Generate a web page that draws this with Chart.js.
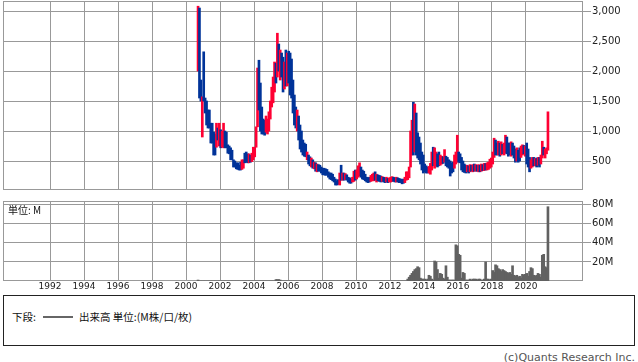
<!DOCTYPE html>
<html>
<head>
<meta charset="utf-8">
<script src="https://cdn.jsdelivr.net/npm/chart.js@4.4.1/dist/chart.umd.min.js"></script>
<style>
  body { margin: 0; background: #fff; width: 638px; height: 362px; overflow: hidden; position: relative; font-family: "Noto Sans CJK JP", sans-serif; color: #111; }
  canvas { position: absolute; left: 0; }
  #price { top: 0; }
  #vol { top: 195px; }
  .txt { position: absolute; white-space: nowrap; font-size: 10.5px; line-height: 12px; }
  #unit { left: 8px; top: 204px; font-size: 10px; }
  #legendBox { position: absolute; left: 3px; top: 295px; width: 630px; height: 49px; border: 1px solid #222; }
  #lgLine { position: absolute; left: 43px; top: 316px; width: 30px; height: 2px; background: #666; }
  #copy { position: absolute; right: 3px; top: 351px; font-family: "DejaVu Sans", sans-serif; font-size: 11px; line-height: 13px; color: #555; white-space: nowrap; }
</style>
</head>
<body>
<canvas id="price" width="638" height="195"></canvas>
<canvas id="vol" width="638" height="100"></canvas>
<div class="txt" id="unit">単位: M</div>
<div id="legendBox"></div>
<div class="txt" style="left:12px; top:311px;">下段:</div>
<div id="lgLine"></div>
<div class="txt" style="left:79px; top:311px;">出来高 単位:(M株/口/枚)</div>
<div id="copy">(c)Quants Research Inc.</div>
<script>
// 月足データ 2000年9月〜2021年4月
const firstMonth = 2000 + 8 / 12;

const priceLow = [
  2000, 1550, 1500, 900, // 2000 (9-12)
  1500, 1300, 1100, 1050, 1050, 800, 800, 600, 600, 730, 850, 750, // 2001
  720, 730, 720, 720, 720, 630, 620, 520, 520, 400, 400, 370, // 2002
  360, 350, 350, 360, 380, 470, 480, 470, 470, 480, 490, 520, // 2003
  570, 730, 1070, 1350, 1000, 950, 950, 930, 980, 950, 1000, 1200, // 2004
  1400, 1470, 1650, 1800, 1900, 2000, 1850, 1900, 1650, 1700, 1750, 1750, // 2005
  1800, 1600, 1550, 1300, 1100, 1050, 1000, 850, 700, 650, 600, 580, // 2006
  570, 520, 450, 420, 400, 380, 370, 330, 320, 330, 330, 300, // 2007
  270, 270, 260, 270, 230, 200, 190, 170, 150, 100, 100, 110, // 2008
  100, 180, 180, 180, 190, 180, 150, 130, 130, 150, 160, 180, // 2009
  200, 230, 250, 230, 200, 190, 170, 150, 140, 150, 160, 170, // 2010
  170, 180, 150, 170, 160, 150, 160, 150, 140, 150, 140, 150, // 2011
  150, 160, 160, 150, 150, 150, 140, 140, 120, 130, 140, 180, // 2012
  190, 220, 400, 600, 600, 650, 600, 550, 520, 450, 350, 300, // 2013
  320, 300, 300, 300, 280, 350, 420, 380, 420, 400, 420, 430, // 2014
  450, 460, 480, 420, 400, 380, 250, 300, 320, 380, 450, 480, // 2015
  480, 470, 350, 320, 310, 300, 320, 300, 320, 330, 320, 330, // 2016
  330, 330, 320, 320, 330, 340, 340, 350, 350, 360, 380, 400, // 2017
  450, 560, 600, 600, 600, 580, 600, 620, 600, 630, 620, 580, // 2018
  600, 580, 600, 550, 480, 500, 480, 500, 560, 600, 620, 580, // 2019
  450, 400, 320, 380, 400, 420, 420, 400, 430, 400, 450, 550, // 2020
  600, 550, 620, 680 // 2021 (1-4)
];

const priceHigh = [
  3080, 3050, 1850, 1570, // 2000
  2320, 1550, 1500, 1350, 1350, 1130, 1130, 980, 950, 1130, 1050, 1130, // 2001
  1020, 1000, 1130, 1000, 980, 770, 750, 720, 680, 520, 500, 470, // 2002
  470, 430, 480, 520, 520, 630, 650, 620, 620, 600, 630, 730, // 2003
  730, 1070, 2050, 2180, 1800, 1400, 1200, 1180, 1250, 1200, 1320, 1500, // 2004
  1730, 1900, 2150, 2130, 2630, 2450, 2350, 2300, 2230, 2150, 2350, 2300, // 2005
  2330, 2300, 2200, 1850, 1600, 1400, 1350, 1250, 1100, 1000, 850, 800, // 2006
  780, 650, 600, 570, 550, 520, 480, 470, 450, 440, 430, 400, // 2007
  380, 380, 370, 360, 320, 300, 300, 280, 230, 200, 170, 190, // 2008
  300, 430, 300, 300, 290, 270, 230, 220, 200, 230, 330, 350, // 2009
  350, 420, 470, 400, 350, 330, 280, 230, 220, 230, 260, 280, // 2010
  300, 320, 280, 270, 260, 250, 240, 230, 220, 230, 210, 220, // 2011
  230, 240, 230, 220, 230, 220, 210, 200, 190, 200, 230, 320, // 2012
  320, 400, 1000, 1180, 1480, 1450, 1300, 970, 900, 800, 650, 600, // 2013
  450, 420, 400, 410, 460, 650, 730, 720, 650, 620, 650, 600, // 2014
  580, 570, 690, 580, 560, 520, 500, 470, 480, 600, 650, 930, // 2015
  650, 620, 560, 500, 450, 430, 430, 420, 440, 430, 440, 450, // 2016
  440, 430, 440, 430, 450, 440, 460, 460, 470, 480, 530, 550, // 2017
  650, 880, 850, 800, 830, 800, 820, 780, 800, 930, 900, 800, // 2018
  800, 820, 800, 750, 700, 720, 680, 720, 750, 770, 760, 750, // 2019
  800, 700, 560, 520, 560, 560, 540, 550, 560, 560, 600, 830, // 2020
  730, 700, 720, 1320 // 2021
];

// 1 = 陽線(赤), 0 = 陰線(青)
const priceUp = [
  1, 0, 0, 1,
  0, 0, 0, 0, 0, 0, 0, 0, 0, 1, 0, 1,
  0, 1, 1, 0, 0, 0, 0, 0, 0, 0, 0, 0,
  0, 0, 0, 1, 1, 0, 0, 0, 1, 0, 1, 1,
  1, 1, 1, 0, 0, 0, 0, 0, 1, 1, 1, 1,
  1, 1, 1, 0, 1, 0, 1, 0, 0, 1, 0, 1,
  0, 0, 0, 0, 0, 0, 1, 0, 0, 0, 0, 0,
  0, 1, 0, 0, 1, 0, 1, 0, 1, 0, 0, 0,
  0, 0, 0, 0, 0, 0, 0, 0, 0, 0, 0, 0,
  1, 0, 1, 0, 1, 0, 0, 0, 0, 1, 1, 0,
  1, 1, 1, 0, 0, 0, 0, 0, 0, 0, 1, 1,
  1, 0, 1, 0, 0, 0, 1, 0, 0, 1, 0, 1,
  1, 1, 0, 0, 1, 0, 0, 0, 0, 0, 1, 1,
  1, 1, 1, 1, 0, 1, 0, 0, 0, 0, 0, 0,
  0, 0, 0, 1, 1, 1, 0, 1, 1, 0, 0, 1,
  1, 0, 1, 0, 0, 0, 0, 0, 0, 1, 1, 1,
  0, 0, 0, 0, 0, 0, 1, 0, 1, 0, 1, 0,
  1, 0, 1, 0, 1, 0, 1, 0, 1, 1, 1, 1,
  1, 1, 0, 0, 1, 0, 1, 0, 1, 1, 0, 0,
  0, 1, 0, 0, 0, 1, 0, 0, 1, 1, 0, 1,
  0, 0, 0, 1, 1, 0, 1, 0, 1, 0, 1, 1,
  0, 1, 1, 1
];

// 出来高 (M)
const volume = [
  1, 0, 0, 0, // 2000
  0, 0, 0, 0, 0, 0, 0, 0, 0, 0, 0, 0, // 2001
  0, 0, 0, 0, 0, 0, 0, 0, 0, 0, 0, 0, // 2002
  0, 0, 0, 0, 0, 0, 0, 0, 0, 0, 0, 0, // 2003
  0, 0, 0, 0, 0, 0, 0, 0, 0, 0, 0, 0, // 2004
  0, 0, 0, 1.5, 1.5, 1.5, 1, 0, 0, 0, 0, 0, // 2005
  0, 0, 0, 0, 0, 0, 0, 0, 0, 0, 0, 0, // 2006
  0, 0, 0, 0, 0, 0, 0, 0, 0, 0, 0, 0, // 2007
  0, 0, 0, 0, 0, 0, 0, 0, 0, 0, 0, 0, // 2008
  0, 0, 0, 0, 0, 0, 0, 0, 0, 0, 0, 0, // 2009
  0, 0, 0, 0, 0, 0, 0, 0, 0, 0, 0, 0, // 2010
  0, 0, 0, 0, 0, 0, 0, 0, 0, 0, 0, 0, // 2011
  0, 0, 0, 0, 0, 0, 0, 0, 0, 0, 0, 0, // 2012
  2, 4, 6, 8, 10, 12, 13, 15, 14, 3, 2, 2, // 2013
  2, 1, 2, 6, 5, 2, 1, 21, 20, 12, 3, 8, // 2014
  7, 3, 2, 16, 4, 1, 1, 1, 1, 1, 38, 37, // 2015
  28, 27, 3, 9, 8, 1, 1, 1, 2, 1, 2, 2, // 2016
  2, 1, 2, 2, 1, 1, 2, 20, 2, 2, 1, 2, // 2017
  11, 9, 17, 16, 13, 12, 10, 12, 11, 10, 9, 8, // 2018
  9, 7, 16, 6, 5, 6, 4, 5, 3, 7, 6, 7, // 2019
  8, 5, 10, 14, 13, 6, 5, 6, 8, 7, 4, 27, // 2020
  28, 15, 14, 78 // 2021
];

const yearTicks = [1992, 1994, 1996, 1998, 2000, 2002, 2004, 2006, 2008, 2010, 2012, 2014, 2016, 2018, 2020];
const priceTicks = [500, 1000, 1500, 2000, 2500, 3000];
const volTicks = [20, 40, 60, 80];

const RED = '#ff0033';
const BLUE = '#003399';
const GRID = '#999';
const X_MIN = 1989.235, X_MAX = 2023.353;

const monthX = i => firstMonth + i / 12 + 1 / 24;

Chart.defaults.font.family = 'DejaVu Sans';
Chart.defaults.font.size = 10;
Chart.defaults.color = '#222';
Chart.defaults.animation = false;

// 枠線
const frame = {
  id: 'frame',
  beforeDatasetsDraw(chart) {
    const { ctx, chartArea: a } = chart;
    ctx.save();
    ctx.strokeStyle = GRID;
    ctx.lineWidth = 1;
    ctx.strokeRect(Math.round(a.left) + 0.5, Math.round(a.top) + 0.5,
      Math.round(a.right - a.left) - 1, Math.round(a.bottom - a.top) - 1);
    ctx.restore();
  }
};

const xAxis = (showLabels, h) => ({
  type: 'linear',
  min: X_MIN,
  max: X_MAX,
  offset: false,
  afterBuildTicks: s => { s.ticks = yearTicks.map(v => ({ value: v })); },
  afterFit: s => { s.height = h; s.paddingLeft = 0; s.paddingRight = 0; },
  grid: { color: GRID, offset: false, drawTicks: false },
  border: { display: false },
  ticks: {
    display: showLabels,
    autoSkip: false,
    maxRotation: 0,
    padding: 0,
    font: { size: 9 },
    callback: v => String(v)
  }
});

const yAxis = (ticks, min, max, fmt) => ({
  position: 'right',
  min: min,
  max: max,
  afterBuildTicks: s => { s.ticks = ticks.map(v => ({ value: v })); },
  afterFit: s => { s.width = 55; s.paddingTop = 0; s.paddingBottom = 0; },
  grid: { color: GRID, tickLength: 8 },
  border: { display: false },
  ticks: { padding: 1, callback: fmt }
});

new Chart(document.getElementById('price'), {
  type: 'bar',
  data: {
    datasets: [{
      data: priceLow.map((l, i) => ({ x: monthX(i), y: [l, priceHigh[i]] })),
      backgroundColor: priceUp.map(u => u ? RED : BLUE),
      borderWidth: 0,
      barThickness: 2
    }]
  },
  options: {
    responsive: false,
    devicePixelRatio: 1,
    layout: { padding: { left: 3, top: 1, right: 0, bottom: 5 } },
    plugins: { legend: { display: false }, tooltip: { enabled: false } },
    scales: {
      x: xAxis(false, 0),
      y: yAxis(priceTicks, 17, 3167, v => v.toLocaleString('en-US'))
    }
  },
  plugins: [frame]
});

new Chart(document.getElementById('vol'), {
  type: 'bar',
  data: {
    datasets: [{
      data: volume.map((v, i) => ({ x: monthX(i), y: v })),
      backgroundColor: '#616161',
      borderWidth: 0,
      barThickness: 2
    }]
  },
  options: {
    responsive: false,
    devicePixelRatio: 1,
    layout: { padding: { left: 3, top: 6, right: 0, bottom: 0 } },
    plugins: { legend: { display: false }, tooltip: { enabled: false } },
    scales: {
      x: xAxis(true, 14),
      y: yAxis(volTicks, 0, 84, v => v + 'M')
    }
  },
  plugins: [frame]
});
</script>
</body>
</html>
